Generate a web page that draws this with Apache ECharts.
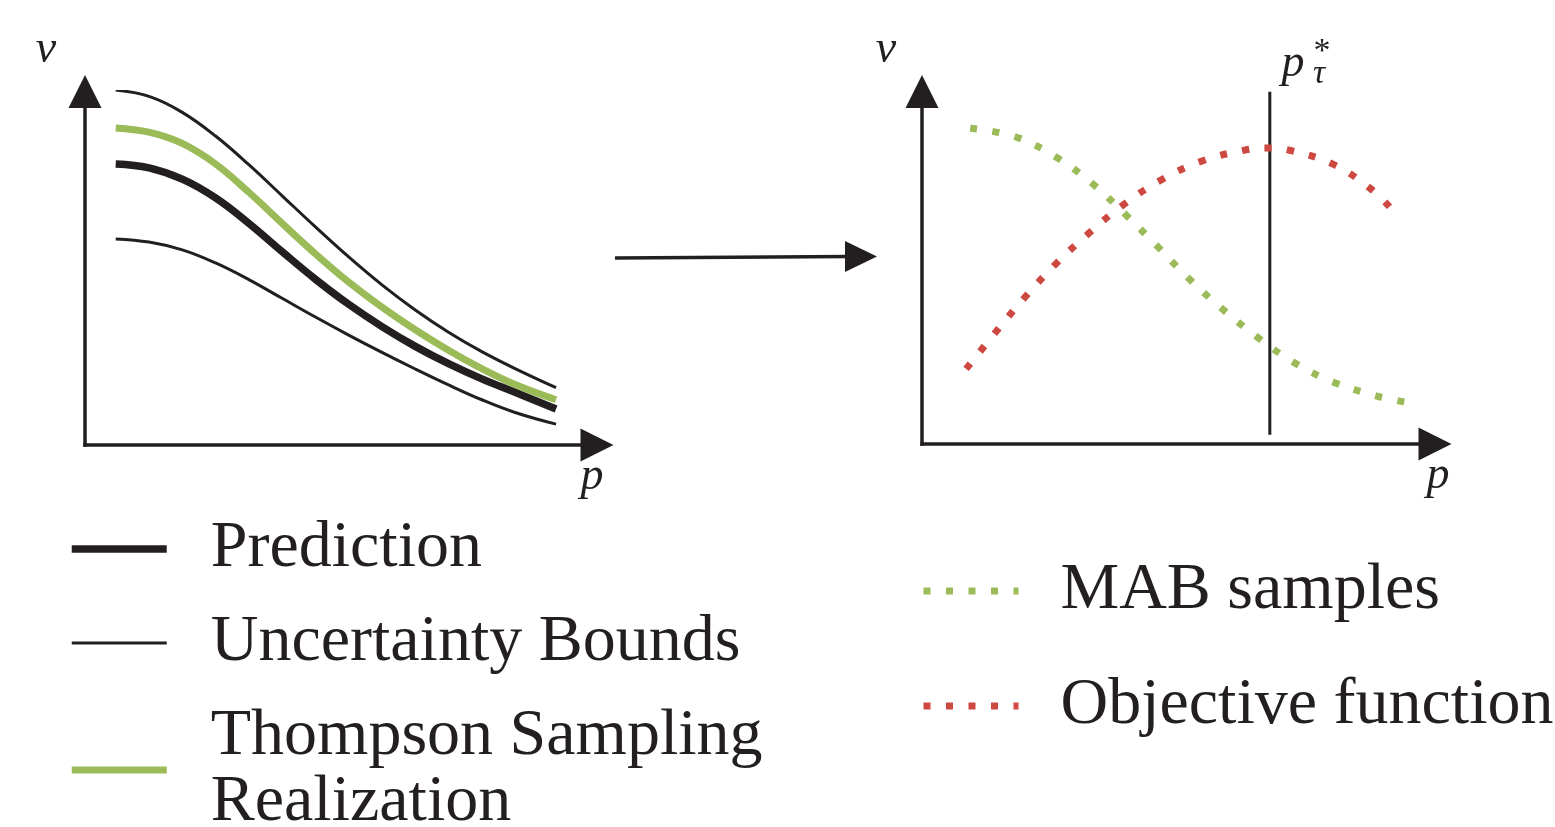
<!DOCTYPE html>
<html>
<head>
<meta charset="utf-8">
<script src="https://cdn.jsdelivr.net/npm/echarts@6/dist/echarts.min.js"></script>
<style>
html,body{margin:0;padding:0;background:#ffffff;}
#chart{width:1555px;height:827px;}
</style>
</head>
<body>
<div id="chart"></div>
<script>
// ---- Left panel: price p vs value v (arbitrary units 0..10) ----
const pLeft = [0.6, 1.25, 1.9, 2.55, 3.2, 3.85, 4.5, 5.15, 5.8, 6.45, 7.1, 7.75, 8.4, 9.2];
const upperBound = [10.04, 9.86, 9.41, 8.74, 7.93, 7.05, 6.17, 5.32, 4.53, 3.82, 3.19, 2.64, 2.16, 1.62];
const tsRealization = [8.97, 8.85, 8.53, 7.95, 7.15, 6.27, 5.41, 4.61, 3.90, 3.26, 2.68, 2.16, 1.71, 1.28];
const prediction = [7.95, 7.84, 7.52, 6.99, 6.27, 5.47, 4.69, 3.98, 3.35, 2.79, 2.30, 1.87, 1.49, 1.02];
const lowerBound = [5.83, 5.74, 5.52, 5.15, 4.68, 4.15, 3.62, 3.11, 2.62, 2.15, 1.70, 1.28, 0.92, 0.59];

// ---- Right panel ----
const pMab = [0.94, 1.83, 2.61, 3.31, 3.96, 4.58, 5.19, 5.83, 6.53, 7.23, 8.01, 8.87, 9.42];
const mabSamples = [8.96, 8.71, 8.14, 7.40, 6.52, 5.62, 4.71, 3.86, 3.04, 2.33, 1.76, 1.36, 1.19];
const pObj = [0.86, 1.44, 2.01, 2.61, 3.26, 3.92, 4.66, 5.46, 6.30, 6.73, 7.15, 8.01, 8.73, 9.12];
const objective = [2.13, 3.18, 4.17, 5.11, 5.99, 6.78, 7.49, 8.03, 8.34, 8.40, 8.34, 7.94, 7.26, 6.72];
const pStar = 6.78;
const pStarSpan = [0.26, 9.99];

// labels
const legendLeft = ['Prediction', 'Uncertainty Bounds', 'Thompson Sampling\nRealization'];
const legendRight = ['MAB samples', 'Objective function'];

const ink = '#231f20';
const green = '#9bbb59';
const red = '#cd4840';
const serif = '"Liberation Serif", "Times New Roman", serif';

const zip = (xs, ys) => xs.map((x, i) => [x, ys[i]]);

function axis(gridIndex) {
  return {
    gridIndex: gridIndex, type: 'value', min: 0, max: 10,
    axisLine: { show: true, onZero: false, symbol: ['none', 'triangle'], symbolSize: [33, 33],
      lineStyle: { color: ink, width: 3.5, cap: 'square' } },
    axisTick: { show: false }, axisLabel: { show: false }, splitLine: { show: false }
  };
}

const dotted = [7, 15.5];

const option = {
  backgroundColor: '#ffffff',
  animation: false,
  grid: [
    { left: 85, top: 91.5, width: 512, height: 353.5 },
    { left: 922, top: 91.5, width: 513, height: 352.5 }
  ],
  xAxis: [axis(0), axis(1)],
  yAxis: [axis(0), axis(1)],
  legend: [
    {
      orient: 'vertical', left: 68, top: 516, height: 420, padding: 0,
      itemWidth: 95, itemHeight: 14, itemGap: 28,
      selectedMode: false,
      data: legendLeft,
      lineStyle: { width: 'inherit' },
      itemStyle: { color: 'rgba(0,0,0,0)', borderWidth: 0 },
      textStyle: { fontFamily: serif, fontSize: 66, color: ink, lineHeight: 66, padding: [0, 0, 0, 39] }
    },
    {
      orient: 'vertical', left: 920, top: 558, height: 300, padding: 0,
      itemWidth: 95, itemHeight: 14, itemGap: 49,
      selectedMode: false,
      data: legendRight,
      lineStyle: { width: 'inherit' },
      itemStyle: { color: 'rgba(0,0,0,0)', borderWidth: 0 },
      textStyle: { fontFamily: serif, fontSize: 66, color: ink, lineHeight: 64, padding: [0, 0, 0, 37] }
    }
  ],
  series: [
    { type: 'line', name: legendLeft[1], xAxisIndex: 0, yAxisIndex: 0, data: zip(pLeft, upperBound),
      smooth: 0.4, symbol: 'none', lineStyle: { color: ink, width: 3 }, itemStyle: { color: ink } },
    { type: 'line', name: legendLeft[1], xAxisIndex: 0, yAxisIndex: 0, data: zip(pLeft, lowerBound),
      smooth: 0.4, symbol: 'none', lineStyle: { color: ink, width: 3 }, itemStyle: { color: ink } },
    { type: 'line', name: legendLeft[0], xAxisIndex: 0, yAxisIndex: 0, data: zip(pLeft, prediction),
      smooth: 0.4, symbol: 'none', lineStyle: { color: ink, width: 7.5 }, itemStyle: { color: ink } },
    { type: 'line', name: legendLeft[2], xAxisIndex: 0, yAxisIndex: 0, data: zip(pLeft, tsRealization),
      smooth: 0.4, symbol: 'none', lineStyle: { color: green, width: 7 }, itemStyle: { color: green } },
    { type: 'line', name: 'p*', xAxisIndex: 1, yAxisIndex: 1, data: [[pStar, pStarSpan[0]], [pStar, pStarSpan[1]]],
      symbol: 'none', lineStyle: { color: ink, width: 3 }, itemStyle: { color: ink } },
    { type: 'line', name: legendRight[0], xAxisIndex: 1, yAxisIndex: 1, data: zip(pMab, mabSamples),
      smooth: 0.4, symbol: 'none', lineStyle: { color: green, width: 7, type: dotted, cap: 'butt' }, itemStyle: { color: green } },
    { type: 'line', name: legendRight[1], xAxisIndex: 1, yAxisIndex: 1, data: zip(pObj, objective),
      smooth: 0.4, symbol: 'none', lineStyle: { color: red, width: 7, type: dotted, cap: 'butt' }, itemStyle: { color: red } }
  ],
  graphic: [
    { type: 'text', x: 46, y: 50, style: { text: 'v', font: 'italic 46px ' + serif, fill: ink, align: 'center', verticalAlign: 'middle', textAlign: 'center', textVerticalAlign: 'middle' } },
    { type: 'text', x: 886, y: 50, style: { text: 'v', font: 'italic 46px ' + serif, fill: ink, align: 'center', verticalAlign: 'middle', textAlign: 'center', textVerticalAlign: 'middle' } },
    { type: 'text', x: 592, y: 477, style: { text: 'p', font: 'italic 46px ' + serif, fill: ink, align: 'center', verticalAlign: 'middle', textAlign: 'center', textVerticalAlign: 'middle' } },
    { type: 'text', x: 1438, y: 476, style: { text: 'p', font: 'italic 46px ' + serif, fill: ink, align: 'center', verticalAlign: 'middle', textAlign: 'center', textVerticalAlign: 'middle' } },
    { type: 'text', x: 1293, y: 64, style: { text: 'p', font: 'italic 46px ' + serif, fill: ink, align: 'center', verticalAlign: 'middle', textAlign: 'center', textVerticalAlign: 'middle' } },
    { type: 'text', x: 1319, y: 74, style: { text: 'τ', font: 'italic 34px ' + serif, fill: ink, align: 'center', verticalAlign: 'middle', textAlign: 'center', textVerticalAlign: 'middle' } },
    { type: 'text', x: 1322, y: 52, style: { text: '*', font: '34px ' + serif, fill: ink, align: 'center', verticalAlign: 'middle', textAlign: 'center', textVerticalAlign: 'middle' } },
    { type: 'line', shape: { x1: 615, y1: 258, x2: 850, y2: 256.5 }, style: { stroke: ink, lineWidth: 3.5 } },
    { type: 'polygon', shape: { points: [[845, 241], [877, 256.5], [845, 272]] }, style: { fill: ink } }
  ]
};

const chart = echarts.init(document.getElementById('chart'), null, { renderer: 'canvas' });
chart.setOption(option);
</script>
</body>
</html>
